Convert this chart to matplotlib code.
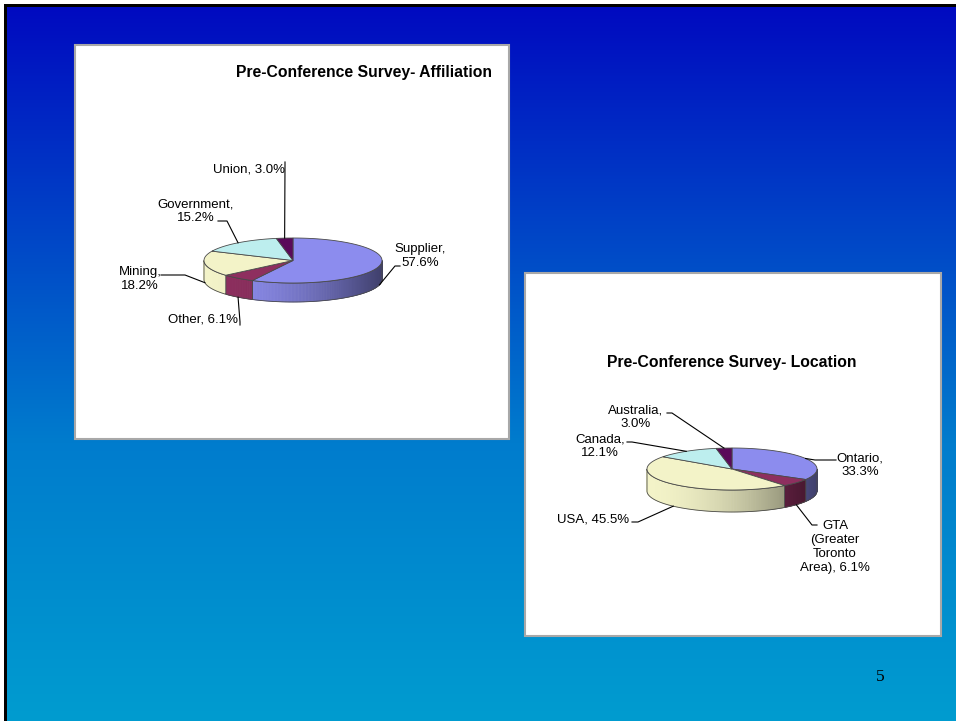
import numpy as np
import matplotlib.pyplot as plt
from matplotlib.patches import Polygon, Rectangle
from matplotlib.collections import PolyCollection
from matplotlib.colors import to_rgb

# chart data
aff_names = ["Supplier", "Other", "Mining", "Government", "Union"]
aff_values = [57.6, 6.1, 18.2, 15.2, 3.0]
loc_names = ["Ontario", "GTA\n(Greater\nToronto\nArea)", "USA", "Canada", "Australia"]
loc_values = [33.3, 6.1, 45.5, 12.1, 3.0]

slice_colors = ["#8c8cee", "#8e2f5f", "#f3f3c8", "#bdeeee", "#5a0a5a"]
edge = "#4a4a4a"
FONT = "Liberation Sans"

# label layout: text centre, separator, leader start/elbow (pixels)
aff_layout = [
    ((420, 256), ",\n", [(400, 266), (395, 266)]),
    ((203, 320), ", ", [(240, 325), (240, 322)]),
    ((140, 279), ",\n", [(161, 275), (185, 275)]),
    ((196, 211), ",\n", [(218, 221), (227, 221)]),
    ((249, 169), ", ", [(285, 162), (285, 165)]),
]
loc_layout = [
    ((860, 465), ",\n", [(836, 460), (815, 460)]),
    ((835, 547), ", ", [(817, 525), (812, 525)]),
    ((593, 519), ", ", [(632, 522), (638, 522)]),
    ((600, 446), ",\n", [(627, 442), (632, 442)]),
    ((636, 417), ",\n", [(667, 413), (672, 413)]),
]


def pt(geom, t_deg):
    cx, cy, rx, ry, h = geom
    t = np.radians(t_deg)
    return cx + rx * np.sin(t), cy - ry * np.cos(t)


def draw_pie3d(ax, geom, names, values, layout):
    cx, cy, rx, ry, h = geom
    frac = np.array(values) / np.sum(values)
    ends = np.cumsum(frac) * 360
    starts = ends - frac * 360

    # side walls (front half only), shaded darker towards the right
    for a0, a1, c in zip(starts, ends, slice_colors):
        lo, hi = max(a0, 90), min(a1, 270)
        if hi <= lo:
            continue
        ts = np.linspace(lo, hi, max(int((hi - lo) * 2), 2))
        xs, ys = pt(geom, ts)
        quads, fcs = [], []
        rgb = np.array(to_rgb(c))
        for i in range(len(ts) - 1):
            quads.append([(xs[i], ys[i]), (xs[i + 1], ys[i + 1]),
                          (xs[i + 1], ys[i + 1] + h), (xs[i], ys[i] + h)])
            s = ((xs[i] + xs[i + 1]) / 2 - (cx - rx)) / (2 * rx)
            fcs.append(tuple(np.clip(rgb * (1 - 0.55 * s ** 1.8), 0, 1)))
        ax.add_collection(PolyCollection(quads, facecolors=fcs, edgecolors=fcs, linewidths=0.4))
        outline = list(zip(xs, ys)) + list(zip(xs[::-1], ys[::-1] + h))
        ax.add_patch(Polygon(outline, closed=True, fill=False, ec=edge, lw=0.6))

    # top faces
    for a0, a1, c in zip(starts, ends, slice_colors):
        ts = np.linspace(a0, a1, max(int((a1 - a0) * 2), 3))
        xs, ys = pt(geom, ts)
        ax.add_patch(Polygon([(cx, cy)] + list(zip(xs, ys)), closed=True,
                             fc=c, ec=edge, lw=0.6))

    # labels with leader lines
    for name, v, a0, a1, (txy, sep, lead) in zip(names, values, starts, ends, layout):
        mid = (a0 + a1) / 2
        ax_, ay_ = pt(geom, mid)
        if np.cos(np.radians(mid)) < 0:
            ay_ += h
        pts = lead + [(ax_, ay_)]
        ax.plot([p[0] for p in pts], [p[1] for p in pts], color="black", lw=0.8)
        ax.text(txy[0], txy[1], f"{name}{sep}{v:.1f}%", ha="center", va="center",
                multialignment="center", fontsize=9.5, family=FONT, linespacing=1.2)


fig = plt.figure(figsize=(9.56, 7.21), dpi=100)
ax = fig.add_axes([0, 0, 1, 1])
ax.set_xlim(0, 956)
ax.set_ylim(721, 0)
ax.axis("off")
fig.patch.set_facecolor("white")

# slide background: black frame and blue gradient
ax.add_patch(Rectangle((4, 4), 960, 730, fc="black", ec="none", zorder=0))
yy = np.linspace(0, 721, 300)
stops_y = [0, 270, 440, 721]
grad = np.stack([np.interp(yy, stops_y, [0, 0, 0, 0]),
                 np.interp(yy, stops_y, [10, 80, 124, 156]),
                 np.interp(yy, stops_y, [192, 200, 205, 208])], axis=-1) / 255
ax.imshow(grad[:, None, :], extent=[7, 956, 721, 7], aspect="auto", zorder=0.5)
ax.set_xlim(0, 956)
ax.set_ylim(721, 0)

# chart panels
ax.add_patch(Rectangle((75, 45), 434, 394, fc="white", ec="#a8a8a8", lw=1.5, zorder=1))
ax.add_patch(Rectangle((525, 273), 416, 363, fc="white", ec="#a8a8a8", lw=1.5, zorder=1))

ax.text(364, 73, "Pre-Conference Survey- Affiliation", ha="center", va="center",
        fontsize=11.3, fontweight="bold", family=FONT)
ax.text(732, 363, "Pre-Conference Survey- Location", ha="center", va="center",
        fontsize=11.3, fontweight="bold", family=FONT)

draw_pie3d(ax, (293, 260.5, 89, 22.5, 19), aff_names, aff_values, aff_layout)
draw_pie3d(ax, (732, 469, 85, 21, 22), loc_names, loc_values, loc_layout)

ax.text(880, 677, "5", ha="center", va="center", fontsize=12.5, family="Liberation Serif")

fig.savefig("out.png", dpi=100)
